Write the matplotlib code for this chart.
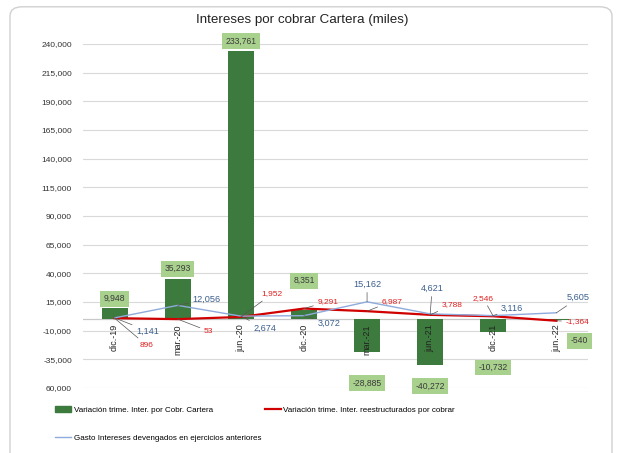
import matplotlib
matplotlib.use('Agg')
import matplotlib.pyplot as plt
from matplotlib import font_manager
from matplotlib.patches import FancyBboxPatch, Patch
from matplotlib.lines import Line2D

# pick a narrow font if we have one
names = {f.name for f in font_manager.fontManager.ttflist}
font = 'Liberation Sans Narrow' if 'Liberation Sans Narrow' in names else 'Liberation Sans'
plt.rcParams['font.family'] = [font, 'DejaVu Sans']

# Data
categories = ['dic.-19', 'mar.-20', 'jun.-20', 'dic.-20', 'mar.-21', 'jun.-21', 'dic.-21', 'jun.-22']
cartera = [9948, 35293, 233761, 8351, -28885, -40272, -10732, -540]
reestructurados = [896, 53, 1952, 9291, 6987, 3788, 2546, -1364]
gasto = [1141, 12056, 2674, 3072, 15162, 4621, 3116, 5605]
yticks = [-60000, -35000, -10000, 15000, 40000, 65000, 90000, 115000, 140000, 165000, 190000, 215000, 240000]
ytick_labels = ['60,000', '-35,000', '-10,000', '15,000', '40,000', '65,000', '90,000', '115,000',
                '140,000', '165,000', '190,000', '215,000', '240,000']

# label offsets in pixels (dx, dy)
bar_off = [(0, 9), (0, 10), (0, 10), (0, 29), (0, -31), (0, -21), (0, -36), (23, -21)]
red_off = [(32, -27), (31, -12), (31, 23), (24, 7), (25, 10), (22, 10), (-10, 18), (21, -1)]
blue_off = [(33, -13), (29, 6), (24, -12), (25, -8), (0, 18), (2, 26), (19, 7), (22, 15)]

bar_color = '#3d7a3d'
box_color = '#a9d18e'
red = '#d00000'
blue = '#8faadc'
blue_txt = '#3b5f8e'
red_txt = '#e02020'

fig = plt.figure(figsize=(6.17, 4.53), dpi=100)
fig.patch.set_facecolor('white')

# card border
card = FancyBboxPatch((10 / 617, -0.1), 602 / 617, 1.085, transform=fig.transFigure,
                      boxstyle='round,pad=0,rounding_size=0.02', fc='white', ec='#d0d0d0', lw=1,
                      zorder=-5)
fig.patches.append(card)

ax = fig.add_axes([83 / 617, 1 - 388 / 453, 505 / 617, 344 / 453])
ax.set_facecolor('none')
x = list(range(len(categories)))

ax.bar(x, cartera, width=0.41, color=bar_color, zorder=2)
ax.plot(x, reestructurados, color=red, lw=1.6, zorder=3)
ax.plot(x, gasto, color=blue, lw=1.0, zorder=3)

ax.set_xlim(-0.5, len(categories) - 0.5)
ax.set_ylim(-60000, 240000)
ax.set_yticks(yticks)
ax.set_yticklabels(ytick_labels)
ax.set_xticks([])
ax.tick_params(axis='y', length=0, pad=8, labelsize=6.0, labelcolor='#333333')
ax.grid(axis='y', color='#d9d9d9', lw=0.8, zorder=0)
for s in ax.spines.values():
    s.set_visible(False)
ax.axhline(0, color='#c8c8c8', lw=0.9, zorder=1)

# category labels under the zero line
for i, c in enumerate(categories):
    ax.annotate(c, xy=(i, 0), xytext=(0, -5), textcoords='offset pixels', rotation=90,
                ha='center', va='top', fontsize=6.5, color='#222222', zorder=4)

# bar labels
for i, v in enumerate(cartera):
    dx, dy = bar_off[i]
    ax.annotate(f'{v:,}', xy=(i, v), xytext=(dx, dy), textcoords='offset pixels',
                ha='center', va='center', fontsize=6.2, color='#3a3a3a', zorder=5,
                bbox=dict(boxstyle='square,pad=0.4', fc=box_color, ec='none'))

# line labels with leader lines
for vals, offs, col in [(reestructurados, red_off, red_txt), (gasto, blue_off, blue_txt)]:
    for i, v in enumerate(vals):
        dx, dy = offs[i]
        ax.annotate(f'{v:,}', xy=(i, v), xytext=(dx, dy), textcoords='offset pixels',
                    ha='center', va='center', fontsize=6.6 if col == blue_txt else 6.0,
                    color=col, zorder=5,
                    arrowprops=dict(arrowstyle='-', color='#555555', lw=0.5,
                                    shrinkA=1, shrinkB=0))

fig.text(302 / 617, 1 - 20 / 453, 'Intereses por cobrar Cartera (miles)', ha='center',
         va='center', fontsize=9.6, color='#222222')

handles = [Patch(color=bar_color), Line2D([], [], color=blue, lw=1.0), Line2D([], [], color=red, lw=1.6)]
labels = ['Variación trime. Inter. por Cobr. Cartera',
          'Gasto Intereses devengados en ejercicios anteriores',
          'Variación trime. Inter. reestructurados por cobrar']
fig.legend(handles, labels, ncol=2, loc='upper left', bbox_to_anchor=(48 / 617, 1 - 399 / 453),
           frameon=False, fontsize=5.8, handlelength=2.0, handletextpad=0.3,
           columnspacing=0.4, labelspacing=2.5)

fig.savefig('out.png', dpi=100)
